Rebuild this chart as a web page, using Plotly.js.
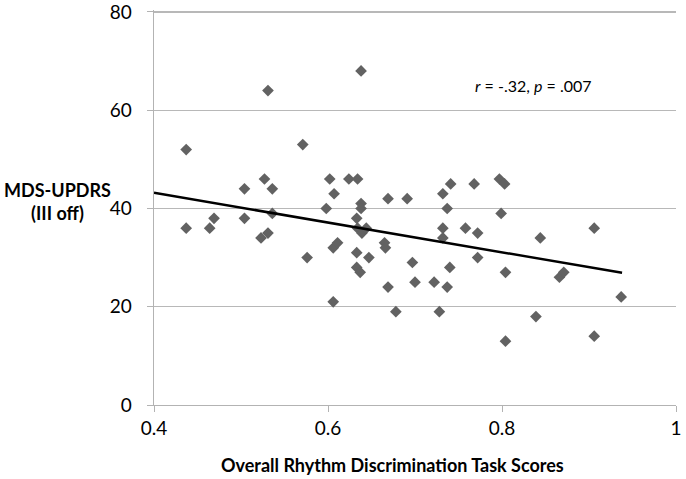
<!DOCTYPE html>
<html>
<head>
<meta charset="utf-8">
<script src="https://cdn.plot.ly/plotly-3.0.1.min.js"></script>
<style>
  html, body { margin: 0; padding: 0; background: #fff; }
  #chart { width: 686px; height: 479px; }
</style>
</head>
<body>
<div id="chart"></div>
<script>
// scores, one entry per patient
var rhythmScores = [
  0.437, 0.531, 0.638, 0.571, 0.504, 0.527, 0.536, 0.602, 0.607, 0.624,
  0.634, 0.598, 0.638, 0.638, 0.669, 0.691, 0.741, 0.732, 0.768, 0.797,
  0.803, 0.737, 0.799, 0.437, 0.464, 0.469, 0.504, 0.536, 0.523, 0.531,
  0.576, 0.606, 0.611, 0.633, 0.634, 0.639, 0.644, 0.633, 0.647, 0.633,
  0.637, 0.665, 0.666, 0.697, 0.700, 0.669, 0.606, 0.678, 0.732, 0.732,
  0.758, 0.772, 0.844, 0.906, 0.740, 0.772, 0.804, 0.866, 0.871, 0.722,
  0.737, 0.728, 0.839, 0.937, 0.804, 0.906
];
var updrsScores = [
  52, 64, 68, 53, 44, 46, 44, 46, 43, 46,
  46, 40, 41, 40, 42, 42, 45, 43, 45, 46,
  45, 40, 39, 36, 36, 38, 38, 39, 34, 35,
  30, 32, 33, 38, 36, 35, 36, 31, 30, 28,
  27, 33, 32, 29, 25, 24, 21, 19, 36, 34,
  36, 35, 34, 36, 28, 30, 27, 26, 27, 25,
  24, 19, 18, 22, 13, 14
];

// trendline end points as drawn in the picture
var trendX = [0.4, 0.938];
var trendY = [43.2, 26.9];

var xTicks = [0.4, 0.6, 0.8, 1];
var xTickText = ['0.4', '0.6', '0.8', '1'];
var yTicks = [0, 20, 40, 60, 80];

var font = 'Lato, "Open Sans", sans-serif';

var points = {
  x: rhythmScores,
  y: updrsScores,
  type: 'scatter',
  mode: 'markers',
  marker: { symbol: 'diamond', size: 9, color: '#626262' },
  hoverinfo: 'x+y'
};

var trend = {
  x: trendX,
  y: trendY,
  type: 'scatter',
  mode: 'lines',
  line: { color: '#000', width: 2.5 },
  hoverinfo: 'skip'
};

var layout = {
  width: 686,
  height: 479,
  margin: { l: 154, r: 10, t: 10, b: 74 },
  paper_bgcolor: '#fff',
  plot_bgcolor: '#fff',
  showlegend: false,
  font: { family: font, size: 18, color: '#000' },
  xaxis: {
    range: [0.4, 1],
    tickvals: xTicks,
    ticktext: xTickText,
    showgrid: false,
    zeroline: false,
    showline: true,
    linecolor: '#b3b3b3',
    linewidth: 1.3,
    ticks: 'outside',
    ticklen: 6,
    tickcolor: '#b3b3b3',
    tickfont: { size: 19 },
    ticklabeloverflow: 'allow'
  },
  yaxis: {
    range: [0, 80.4],
    tickvals: yTicks,
    showgrid: true,
    gridcolor: '#b8b8b8',
    gridwidth: 1.3,
    zeroline: false,
    showline: true,
    linecolor: '#b3b3b3',
    linewidth: 1.3,
    ticks: 'outside',
    ticklen: 6,
    tickcolor: '#b3b3b3',
    tickfont: { size: 19 },
    ticklabelstandoff: 11,
    ticklabeloverflow: 'allow'
  },
  annotations: [
    {
      text: '<b>MDS-UPDRS</b><br><b>(III off)</b>',
      xref: 'paper', yref: 'paper',
      x: -0.184, y: 0.515,
      xanchor: 'center', yanchor: 'middle',
      showarrow: false,
      align: 'center',
      font: { size: 18 }
    },
    {
      text: '<b>Overall Rhythm Discrimination Task Scores</b>',
      xref: 'paper', yref: 'paper',
      x: (392 - 154) / 522, y: -0.152,
      xanchor: 'center', yanchor: 'middle',
      showarrow: false,
      font: { size: 18 }
    },
    {
      text: '<i>r</i> = -.32, <i>p</i> = .007',
      xref: 'x', yref: 'y',
      x: 0.836, y: 65.1,
      xanchor: 'center', yanchor: 'middle',
      showarrow: false,
      font: { size: 16 }
    }
  ]
};

Plotly.newPlot('chart', [points, trend], layout, { displayModeBar: false, staticPlot: true });
</script>
</body>
</html>
